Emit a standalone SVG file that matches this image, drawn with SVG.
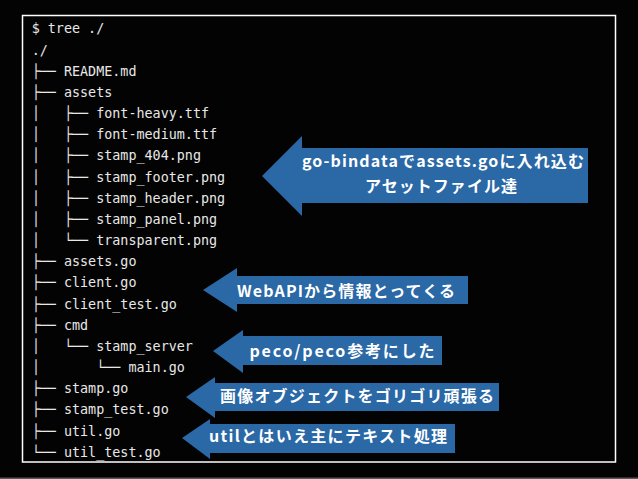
<svg xmlns="http://www.w3.org/2000/svg" width="638" height="479" viewBox="0 0 638 479">
<style>
.tree{font-family:"DejaVu Sans Mono","Liberation Mono",monospace;font-size:13.4px;fill:#e8e8e8}
.arrow{fill:#2a68a6}
.lbl{font-family:"Noto Sans CJK JP","Noto Sans",sans-serif;font-weight:bold;font-size:16px;fill:#ffffff;text-anchor:middle}
</style>
<rect x="0" y="0" width="638" height="479" fill="#030303"/>
<rect x="0" y="477.5" width="638" height="1.5" fill="#5a5a5a"/>
<g id="terminal">
<rect x="22.5" y="15.5" width="593" height="446.5" fill="none" stroke="#ffffff" stroke-width="1.5"/>
<g class="tree">
<text x="31.7" y="33.3">$&#160;tree&#160;./</text>
<text x="31.7" y="54.5">./</text>
<text x="31.7" y="75.6">├──&#160;README.md</text>
<text x="31.7" y="96.8">├──&#160;assets</text>
<text x="31.7" y="118.0">│&#160;&#160;&#160;├──&#160;font-heavy.ttf</text>
<text x="31.7" y="139.2">│&#160;&#160;&#160;├──&#160;font-medium.ttf</text>
<text x="31.7" y="160.3">│&#160;&#160;&#160;├──&#160;stamp_404.png</text>
<text x="31.7" y="181.5">│&#160;&#160;&#160;├──&#160;stamp_footer.png</text>
<text x="31.7" y="202.7">│&#160;&#160;&#160;├──&#160;stamp_header.png</text>
<text x="31.7" y="223.8">│&#160;&#160;&#160;├──&#160;stamp_panel.png</text>
<text x="31.7" y="245.0">│&#160;&#160;&#160;└──&#160;transparent.png</text>
<text x="31.7" y="266.2">├──&#160;assets.go</text>
<text x="31.7" y="287.3">├──&#160;client.go</text>
<text x="31.7" y="308.5">├──&#160;client_test.go</text>
<text x="31.7" y="329.7">├──&#160;cmd</text>
<text x="31.7" y="350.9">│&#160;&#160;&#160;└──&#160;stamp_server</text>
<text x="31.7" y="372.0">│&#160;&#160;&#160;&#160;&#160;&#160;&#160;└──&#160;main.go</text>
<text x="31.7" y="393.2">├──&#160;stamp.go</text>
<text x="31.7" y="414.4">├──&#160;stamp_test.go</text>
<text x="31.7" y="435.5">├──&#160;util.go</text>
<text x="31.7" y="456.7">└──&#160;util_test.go</text>
</g>
</g>
<g id="connectors">
<g id="arrow-assets">
<polygon class="arrow" points="262,176 302,136 302,148 588,148 588,203 302,203 302,216"/>
<text class="lbl" x="443" y="167" textLength="282" lengthAdjust="spacing">go-bindataでassets.goに入れ込む</text>
<text class="lbl" x="441" y="192" textLength="152" lengthAdjust="spacing">アセットファイル達</text>
</g>
<g id="arrow-client">
<polygon class="arrow" points="203,290 237,268 237,276 468,276 468,304 237,304 237,312"/>
<text class="lbl" x="346" y="297" textLength="218" lengthAdjust="spacing">WebAPIから情報とってくる</text>
</g>
<g id="arrow-cmd">
<polygon class="arrow" points="213,351 243,330 243,336 442,336 442,365 243,365 243,373"/>
<text class="lbl" x="342" y="357" textLength="185" lengthAdjust="spacing">peco/peco参考にした</text>
</g>
<g id="arrow-stamp">
<polygon class="arrow" points="186,397 215,377 215,383 499,383 499,411 215,411 215,418"/>
<text class="lbl" x="357" y="402" textLength="274" lengthAdjust="spacing">画像オブジェクトをゴリゴリ頑張る</text>
</g>
<g id="arrow-util">
<polygon class="arrow" points="182,438 210,419 210,424 455,424 455,453 210,453 210,459"/>
<text class="lbl" x="328" y="442" textLength="238" lengthAdjust="spacing">utilとはいえ主にテキスト処理</text>
</g>
</g>
</svg>
